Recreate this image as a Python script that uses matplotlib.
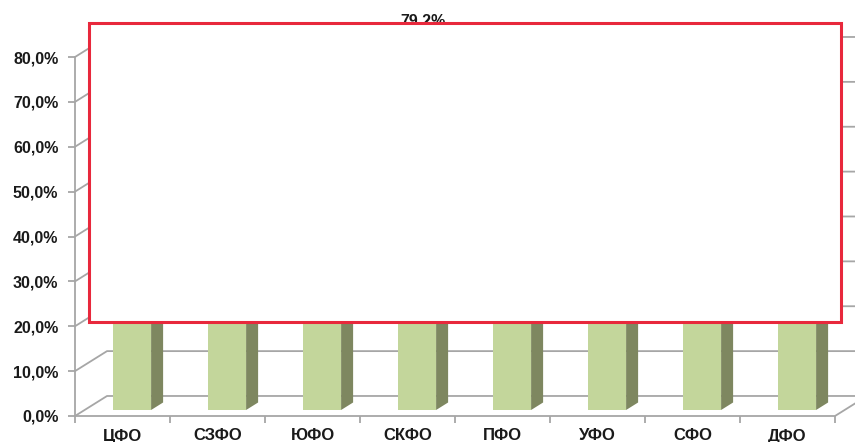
import numpy as np
import matplotlib.pyplot as plt
from matplotlib import font_manager
from matplotlib.patches import Polygon, Rectangle

# pick the regular-width Liberation Sans Bold (not the Narrow one)
bold_path = None
for f in font_manager.fontManager.ttflist:
    if f.name == 'Liberation Sans' and f.weight == 700 and f.style == 'normal' \
            and 'Narrow' not in f.fname:
        bold_path = f.fname
        break
if bold_path:
    y_font = font_manager.FontProperties(fname=bold_path, size=11.5)
    x_font = font_manager.FontProperties(fname=bold_path, size=12)
else:
    y_font = font_manager.FontProperties(family='DejaVu Sans', weight='bold', size=11)
    x_font = y_font

# data (only СКФО is readable, the rest are hidden behind the white box - estimates)
districts = ['ЦФО', 'СЗФО', 'ЮФО', 'СКФО', 'ПФО', 'УФО', 'СФО', 'ДФО']
values = [35.0, 30.0, 40.0, 79.2, 35.0, 30.0, 30.0, 25.0]
labels = ['', '', '', '79,2%', '', '', '', '']
yticks = [0, 10, 20, 30, 40, 50, 60, 70, 80]

# fake 3d geometry (in data units)
DX = 0.337   # depth shift along x, in categories
DY = 4.46    # depth shift along y, in percent
t0, t1 = 0.3, 0.675   # bar front / back depth
w = 0.4

W, H = 855, 442
fig = plt.figure(figsize=(W / 100, H / 100), dpi=100)
ax = fig.add_axes([75 / W, (H - 416) / H, 760 / W, 359 / H])
ax.set_xlim(0, 8)
ax.set_ylim(0, 80)
for s in ax.spines.values():
    s.set_visible(False)

grid = '#a6a6a6'
n = len(districts)
# walls gridlines
for v in yticks:
    ax.plot([0, DX, n + DX], [v, v + DY, v + DY], color=grid, lw=1.3,
            clip_on=False, zorder=1)
ax.plot([0, 0], [0, 80], color=grid, lw=1.3, clip_on=False, zorder=1)
ax.plot([0, n, n + DX], [0, 0, DY], color=grid, lw=1.3, clip_on=False, zorder=1)

# bars
for i, v in enumerate(values):
    x0 = i + 0.5 - w / 2 + t0 * DX
    y0 = t0 * DY
    ddx = (t1 - t0) * DX
    ddy = (t1 - t0) * DY
    front = Polygon([(x0, y0), (x0 + w, y0), (x0 + w, v + y0), (x0, v + y0)],
                    closed=True, fc='#c3d69b', ec='none', zorder=3, clip_on=False)
    side = Polygon([(x0 + w, y0), (x0 + w + ddx, y0 + ddy), (x0 + w + ddx, v + y0 + ddy),
                    (x0 + w, v + y0)], closed=True, fc='#7e8760', ec='none', zorder=3,
                   clip_on=False)
    top = Polygon([(x0, v + y0), (x0 + w, v + y0), (x0 + w + ddx, v + y0 + ddy),
                   (x0 + ddx, v + y0 + ddy)], closed=True, fc='#d7e4bd', ec='none',
                  zorder=3, clip_on=False)
    ax.add_patch(front)
    ax.add_patch(side)
    ax.add_patch(top)
    if labels[i]:
        ax.annotate(labels[i], (i + 0.5 + (t0 + t1) / 2 * DX, v + (t0 + t1) / 2 * DY),
                    xytext=(0, 18), textcoords='offset points', ha='center',
                    va='baseline', fontproperties=y_font, color='#1a1a1a',
                    annotation_clip=False, zorder=4)

# axes ticks
ax.set_yticks(yticks)
ax.set_yticklabels([f'{v:.1f}%'.replace('.', ',') for v in yticks],
                   fontproperties=y_font, color='#1a1a1a')
ax.set_xticks(np.arange(n + 1))
ax.set_xticklabels([])
ax.set_xticks(np.arange(n) + 0.5, minor=True)
ax.set_xticklabels(districts, minor=True, fontproperties=x_font, color='#1a1a1a')
ax.tick_params(axis='y', length=5, color=grid, width=1.3, pad=7)
ax.tick_params(axis='x', which='major', length=5, color=grid, width=1.3)
ax.tick_params(axis='x', which='minor', length=0, pad=9)
ax.patch.set_alpha(0)

# white box with red border drawn over the chart
box = Rectangle((89 / W, (H - 322) / H), 752 / W, 299 / H, transform=fig.transFigure,
                fc='white', ec='#e8283c', lw=2.2, zorder=10)
fig.patches.append(box)

fig.savefig('out.png', dpi=100)
